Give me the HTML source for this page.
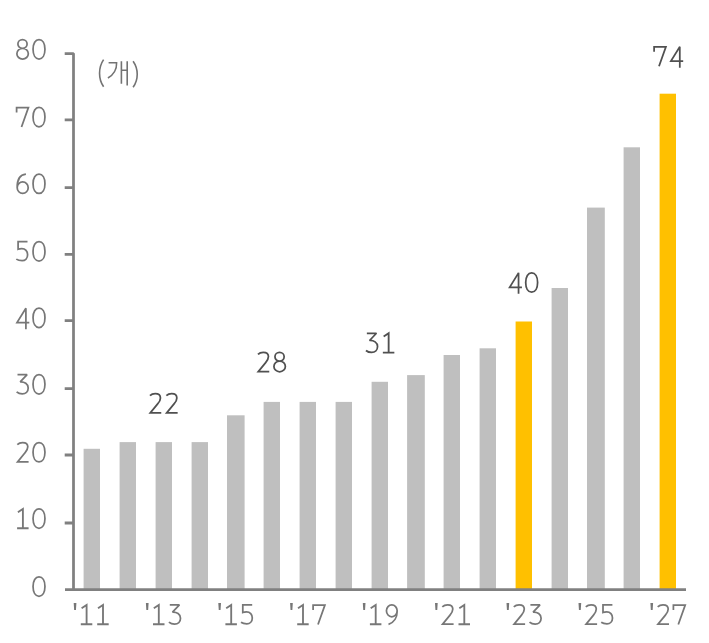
<!DOCTYPE html>
<html><head><meta charset="utf-8"><style>
html,body{margin:0;padding:0;background:#fff;width:709px;height:643px;overflow:hidden}
body{position:relative;font-family:"Liberation Sans",sans-serif}
.tx{position:absolute;font-size:29.3px;line-height:29.3px;white-space:nowrap;color:transparent}
.c{width:80px;text-align:center}
</style></head><body>
<svg width="709" height="643" viewBox="0 0 709 643" style="position:absolute;left:0;top:0"><rect x="83.60" y="448.80" width="16.4" height="141.20" fill="#BFBFBF"/><rect x="119.60" y="442.10" width="16.4" height="147.90" fill="#BFBFBF"/><rect x="155.60" y="442.10" width="16.4" height="147.90" fill="#BFBFBF"/><rect x="191.60" y="442.10" width="16.4" height="147.90" fill="#BFBFBF"/><rect x="227.00" y="415.30" width="17.6" height="174.70" fill="#BFBFBF"/><rect x="263.60" y="401.90" width="16.4" height="188.10" fill="#BFBFBF"/><rect x="299.60" y="401.90" width="16.4" height="188.10" fill="#BFBFBF"/><rect x="335.60" y="401.90" width="16.4" height="188.10" fill="#BFBFBF"/><rect x="371.60" y="381.80" width="16.4" height="208.20" fill="#BFBFBF"/><rect x="407.10" y="375.10" width="17.7" height="214.90" fill="#BFBFBF"/><rect x="443.60" y="355.00" width="16.4" height="235.00" fill="#BFBFBF"/><rect x="479.60" y="348.30" width="16.4" height="241.70" fill="#BFBFBF"/><rect x="515.60" y="321.50" width="16.4" height="268.50" fill="#FFC000"/><rect x="551.60" y="288.00" width="16.4" height="302.00" fill="#BFBFBF"/><rect x="587.00" y="207.60" width="17.8" height="382.40" fill="#BFBFBF"/><rect x="623.60" y="147.30" width="16.4" height="442.70" fill="#BFBFBF"/><rect x="659.60" y="93.70" width="16.4" height="496.30" fill="#FFC000"/><path d="M64.7 119.9H73.5M64.7 187.7H73.5M64.7 254.4H73.5M64.7 320.7H73.5M64.7 388.6H73.5M64.7 455.0H73.5M64.7 523.0H73.5" stroke="#808080" stroke-width="2.8" fill="none"/><path d="M64.7 53.5H73.5V589.5" stroke="#808080" stroke-width="2.75" stroke-linejoin="bevel" fill="none"/><path d="M65 589.6H686" stroke="#808080" stroke-width="2.8" fill="none"/><g><g stroke="#777777" fill="none" stroke-linejoin="miter" stroke-miterlimit="2.5"><path transform="translate(22.60 38.80)" d="M-0.10 0.85C2.44 0.85 4.50 2.80 4.50 5.20C4.50 7.60 2.44 9.55 -0.10 9.55C-2.64 9.55 -4.70 7.60 -4.70 5.20C-4.70 2.80 -2.64 0.85 -0.10 0.85ZM0.00 9.54C3.16 9.54 5.72 11.94 5.72 14.90C5.72 17.86 3.16 20.26 0.00 20.26C-3.16 20.26 -5.72 17.86 -5.72 14.90C-5.72 11.94 -3.16 9.54 0.00 9.54Z" stroke-width="1.75"/><path transform="translate(39.00 38.80)" d="M0.00 0.85C3.57 0.85 5.95 4.73 5.95 10.55C5.95 16.37 3.57 20.25 0.00 20.25C-3.57 20.25 -5.95 16.37 -5.95 10.55C-5.95 4.73 -3.57 0.85 0.00 0.85Z" stroke-width="1.75"/></g><g stroke="#777777" fill="none" stroke-linejoin="miter" stroke-miterlimit="2.5"><path transform="translate(22.60 106.50)" d="M-6.0 6.0V1.0H5.8L-1.1 20.5" stroke-width="1.75"/><path transform="translate(39.00 106.50)" d="M0.00 0.85C3.57 0.85 5.95 4.73 5.95 10.55C5.95 16.37 3.57 20.25 0.00 20.25C-3.57 20.25 -5.95 16.37 -5.95 10.55C-5.95 4.73 -3.57 0.85 0.00 0.85Z" stroke-width="1.75"/></g><g stroke="#777777" fill="none" stroke-linejoin="miter" stroke-miterlimit="2.5"><path transform="translate(22.60 173.20)" d="M3.3 0.9C-0.5 1.2 -5.6 3.5 -5.4 14.5M0.10 8.75C3.14 8.75 5.60 11.32 5.60 14.50C5.60 17.68 3.14 20.25 0.10 20.25C-2.94 20.25 -5.40 17.68 -5.40 14.50C-5.40 11.32 -2.94 8.75 0.10 8.75Z" stroke-width="1.75"/><path transform="translate(39.00 173.20)" d="M0.00 0.85C3.57 0.85 5.95 4.73 5.95 10.55C5.95 16.37 3.57 20.25 0.00 20.25C-3.57 20.25 -5.95 16.37 -5.95 10.55C-5.95 4.73 -3.57 0.85 0.00 0.85Z" stroke-width="1.75"/></g><g stroke="#777777" fill="none" stroke-linejoin="miter" stroke-miterlimit="2.5"><path transform="translate(22.60 240.80)" d="M4.9 0.85H-4.5V8.5C-3.2 8.0 -2 7.9 -0.8 7.9C2.8 7.9 5.0 10.5 5.0 14.0C5.0 17.5 2.6 19.9 -0.5 19.9C-2.8 19.9 -4.9 19.3 -6.3 18.3" stroke-width="1.75"/><path transform="translate(39.00 240.80)" d="M0.00 0.85C3.57 0.85 5.95 4.73 5.95 10.55C5.95 16.37 3.57 20.25 0.00 20.25C-3.57 20.25 -5.95 16.37 -5.95 10.55C-5.95 4.73 -3.57 0.85 0.00 0.85Z" stroke-width="1.75"/></g><g stroke="#777777" fill="none" stroke-linejoin="miter" stroke-miterlimit="2.5"><path transform="translate(22.60 307.30)" d="M3.3 21.9V0.9L-5.6 15.3H6.7" stroke-width="1.75"/><path transform="translate(39.00 307.30)" d="M0.00 0.85C3.57 0.85 5.95 4.73 5.95 10.55C5.95 16.37 3.57 20.25 0.00 20.25C-3.57 20.25 -5.95 16.37 -5.95 10.55C-5.95 4.73 -3.57 0.85 0.00 0.85Z" stroke-width="1.75"/></g><g stroke="#777777" fill="none" stroke-linejoin="miter" stroke-miterlimit="2.5"><path transform="translate(22.60 373.80)" d="M-5.1 0.86H4.5L-2.4 8.1C1.8 7.9 5.6 10 5.6 14.2C5.6 18 3 20.1 -0.3 20.1C-2.5 20.1 -4.6 19.3 -6.0 18.1" stroke-width="1.75"/><path transform="translate(39.00 373.80)" d="M0.00 0.85C3.57 0.85 5.95 4.73 5.95 10.55C5.95 16.37 3.57 20.25 0.00 20.25C-3.57 20.25 -5.95 16.37 -5.95 10.55C-5.95 4.73 -3.57 0.85 0.00 0.85Z" stroke-width="1.75"/></g><g stroke="#777777" fill="none" stroke-linejoin="miter" stroke-miterlimit="2.5"><path transform="translate(22.60 441.70)" d="M-5.3 2.9C-3.8 1.4 -1.9 0.85 0 0.85C3.2 0.85 5.2 2.6 5.2 5.1C5.2 7.3 4.0 9.3 2.4 11.1L-5.0 20.2H6.0" stroke-width="1.75"/><path transform="translate(39.00 441.70)" d="M0.00 0.85C3.57 0.85 5.95 4.73 5.95 10.55C5.95 16.37 3.57 20.25 0.00 20.25C-3.57 20.25 -5.95 16.37 -5.95 10.55C-5.95 4.73 -3.57 0.85 0.00 0.85Z" stroke-width="1.75"/></g><g stroke="#777777" fill="none" stroke-linejoin="miter" stroke-miterlimit="2.5"><path transform="translate(22.60 508.00)" d="M-4.7 4.2L0.3 0.9V20.2M-5.5 20.2H6.0" stroke-width="1.85"/><path transform="translate(39.00 508.00)" d="M0.00 0.85C3.57 0.85 5.95 4.73 5.95 10.55C5.95 16.37 3.57 20.25 0.00 20.25C-3.57 20.25 -5.95 16.37 -5.95 10.55C-5.95 4.73 -3.57 0.85 0.00 0.85Z" stroke-width="1.75"/></g><g stroke="#777777" fill="none" stroke-linejoin="miter" stroke-miterlimit="2.5"><path transform="translate(39.00 576.00)" d="M0.00 0.85C3.57 0.85 5.95 4.73 5.95 10.55C5.95 16.37 3.57 20.25 0.00 20.25C-3.57 20.25 -5.95 16.37 -5.95 10.55C-5.95 4.73 -3.57 0.85 0.00 0.85Z" stroke-width="1.75"/></g><g stroke="#777777" fill="none" stroke-linejoin="miter" stroke-miterlimit="2.5"><path transform="translate(86.30 604.00)" d="M-4.7 4.2L0.3 0.9V20.2M-5.5 20.2H6.0" stroke-width="1.85"/><path transform="translate(102.70 604.00)" d="M-4.7 4.2L0.3 0.9V20.2M-5.5 20.2H6.0" stroke-width="1.85"/></g><g stroke="#777777" fill="none" stroke-linejoin="miter" stroke-miterlimit="2.5"><path transform="translate(158.50 604.00)" d="M-4.7 4.2L0.3 0.9V20.2M-5.5 20.2H6.0" stroke-width="1.85"/><path transform="translate(174.90 604.00)" d="M-5.1 0.86H4.5L-2.4 8.1C1.8 7.9 5.6 10 5.6 14.2C5.6 18 3 20.1 -0.3 20.1C-2.5 20.1 -4.6 19.3 -6.0 18.1" stroke-width="1.75"/></g><g stroke="#777777" fill="none" stroke-linejoin="miter" stroke-miterlimit="2.5"><path transform="translate(230.90 604.00)" d="M-4.7 4.2L0.3 0.9V20.2M-5.5 20.2H6.0" stroke-width="1.85"/><path transform="translate(247.30 604.00)" d="M4.9 0.85H-4.5V8.5C-3.2 8.0 -2 7.9 -0.8 7.9C2.8 7.9 5.0 10.5 5.0 14.0C5.0 17.5 2.6 19.9 -0.5 19.9C-2.8 19.9 -4.9 19.3 -6.3 18.3" stroke-width="1.75"/></g><g stroke="#777777" fill="none" stroke-linejoin="miter" stroke-miterlimit="2.5"><path transform="translate(302.70 604.00)" d="M-4.7 4.2L0.3 0.9V20.2M-5.5 20.2H6.0" stroke-width="1.85"/><path transform="translate(319.10 604.00)" d="M-6.0 6.0V1.0H5.8L-1.1 20.5" stroke-width="1.75"/></g><g stroke="#777777" fill="none" stroke-linejoin="miter" stroke-miterlimit="2.5"><path transform="translate(375.40 604.00)" d="M-4.7 4.2L0.3 0.9V20.2M-5.5 20.2H6.0" stroke-width="1.85"/><path transform="translate(391.80 604.00)" d="M0.00 0.83C2.96 0.83 5.36 3.50 5.36 6.80C5.36 10.10 2.96 12.77 0.00 12.77C-2.96 12.77 -5.36 10.10 -5.36 6.80C-5.36 3.50 -2.96 0.83 0.00 0.83ZM5.36 7.5C5.36 13 2.5 18.5 -3.3 20.3" stroke-width="1.75"/></g><g stroke="#777777" fill="none" stroke-linejoin="miter" stroke-miterlimit="2.5"><path transform="translate(447.60 604.00)" d="M-5.3 2.9C-3.8 1.4 -1.9 0.85 0 0.85C3.2 0.85 5.2 2.6 5.2 5.1C5.2 7.3 4.0 9.3 2.4 11.1L-5.0 20.2H6.0" stroke-width="1.75"/><path transform="translate(464.00 604.00)" d="M-4.7 4.2L0.3 0.9V20.2M-5.5 20.2H6.0" stroke-width="1.85"/></g><g stroke="#777777" fill="none" stroke-linejoin="miter" stroke-miterlimit="2.5"><path transform="translate(519.10 604.00)" d="M-5.3 2.9C-3.8 1.4 -1.9 0.85 0 0.85C3.2 0.85 5.2 2.6 5.2 5.1C5.2 7.3 4.0 9.3 2.4 11.1L-5.0 20.2H6.0" stroke-width="1.75"/><path transform="translate(535.50 604.00)" d="M-5.1 0.86H4.5L-2.4 8.1C1.8 7.9 5.6 10 5.6 14.2C5.6 18 3 20.1 -0.3 20.1C-2.5 20.1 -4.6 19.3 -6.0 18.1" stroke-width="1.75"/></g><g stroke="#777777" fill="none" stroke-linejoin="miter" stroke-miterlimit="2.5"><path transform="translate(591.10 604.00)" d="M-5.3 2.9C-3.8 1.4 -1.9 0.85 0 0.85C3.2 0.85 5.2 2.6 5.2 5.1C5.2 7.3 4.0 9.3 2.4 11.1L-5.0 20.2H6.0" stroke-width="1.75"/><path transform="translate(607.50 604.00)" d="M4.9 0.85H-4.5V8.5C-3.2 8.0 -2 7.9 -0.8 7.9C2.8 7.9 5.0 10.5 5.0 14.0C5.0 17.5 2.6 19.9 -0.5 19.9C-2.8 19.9 -4.9 19.3 -6.3 18.3" stroke-width="1.75"/></g><g stroke="#777777" fill="none" stroke-linejoin="miter" stroke-miterlimit="2.5"><path transform="translate(663.00 604.00)" d="M-5.3 2.9C-3.8 1.4 -1.9 0.85 0 0.85C3.2 0.85 5.2 2.6 5.2 5.1C5.2 7.3 4.0 9.3 2.4 11.1L-5.0 20.2H6.0" stroke-width="1.75"/><path transform="translate(679.40 604.00)" d="M-6.0 6.0V1.0H5.8L-1.1 20.5" stroke-width="1.75"/></g><path d="M73.70 602.9h2.7l-0.45 7.1h-1.8zM145.90 602.9h2.7l-0.45 7.1h-1.8zM218.30 602.9h2.7l-0.45 7.1h-1.8zM290.10 602.9h2.7l-0.45 7.1h-1.8zM362.80 602.9h2.7l-0.45 7.1h-1.8zM435.00 602.9h2.7l-0.45 7.1h-1.8zM506.50 602.9h2.7l-0.45 7.1h-1.8zM578.50 602.9h2.7l-0.45 7.1h-1.8zM650.40 602.9h2.7l-0.45 7.1h-1.8z" fill="#777777"/><g stroke="#505050" fill="none" stroke-linejoin="miter" stroke-miterlimit="2.5"><path transform="translate(155.25 392.80)" d="M-5.3 2.9C-3.8 1.4 -1.9 0.85 0 0.85C3.2 0.85 5.2 2.6 5.2 5.1C5.2 7.3 4.0 9.3 2.4 11.1L-5.0 20.2H6.0" stroke-width="1.75"/><path transform="translate(171.65 392.80)" d="M-5.3 2.9C-3.8 1.4 -1.9 0.85 0 0.85C3.2 0.85 5.2 2.6 5.2 5.1C5.2 7.3 4.0 9.3 2.4 11.1L-5.0 20.2H6.0" stroke-width="1.75"/></g><g stroke="#505050" fill="none" stroke-linejoin="miter" stroke-miterlimit="2.5"><path transform="translate(263.25 351.50)" d="M-5.3 2.9C-3.8 1.4 -1.9 0.85 0 0.85C3.2 0.85 5.2 2.6 5.2 5.1C5.2 7.3 4.0 9.3 2.4 11.1L-5.0 20.2H6.0" stroke-width="1.75"/><path transform="translate(279.65 351.50)" d="M-0.10 0.85C2.44 0.85 4.50 2.80 4.50 5.20C4.50 7.60 2.44 9.55 -0.10 9.55C-2.64 9.55 -4.70 7.60 -4.70 5.20C-4.70 2.80 -2.64 0.85 -0.10 0.85ZM0.00 9.54C3.16 9.54 5.72 11.94 5.72 14.90C5.72 17.86 3.16 20.26 0.00 20.26C-3.16 20.26 -5.72 17.86 -5.72 14.90C-5.72 11.94 -3.16 9.54 0.00 9.54Z" stroke-width="1.75"/></g><g stroke="#505050" fill="none" stroke-linejoin="miter" stroke-miterlimit="2.5"><path transform="translate(371.95 332.40)" d="M-5.1 0.86H4.5L-2.4 8.1C1.8 7.9 5.6 10 5.6 14.2C5.6 18 3 20.1 -0.3 20.1C-2.5 20.1 -4.6 19.3 -6.0 18.1" stroke-width="1.75"/><path transform="translate(388.35 332.40)" d="M-4.7 4.2L0.3 0.9V20.2M-5.5 20.2H6.0" stroke-width="1.85"/></g><g stroke="#505050" fill="none" stroke-linejoin="miter" stroke-miterlimit="2.5"><path transform="translate(515.25 271.95)" d="M3.3 21.9V0.9L-5.6 15.3H6.7" stroke-width="1.75"/><path transform="translate(531.65 271.95)" d="M0.00 0.85C3.57 0.85 5.95 4.73 5.95 10.55C5.95 16.37 3.57 20.25 0.00 20.25C-3.57 20.25 -5.95 16.37 -5.95 10.55C-5.95 4.73 -3.57 0.85 0.00 0.85Z" stroke-width="1.75"/></g><g stroke="#505050" fill="none" stroke-linejoin="miter" stroke-miterlimit="2.5"><path transform="translate(660.10 45.80)" d="M-6.0 6.0V1.0H5.8L-1.1 20.5" stroke-width="1.75"/><path transform="translate(676.50 45.80)" d="M3.3 21.9V0.9L-5.6 15.3H6.7" stroke-width="1.75"/></g><g fill="none" stroke="#737373" stroke-width="1.6"><path d="M103.6 59.6C98.2 67.5 98.2 79 103.6 86.8"/><path d="M133.1 61.2C138.6 69 138.6 79.5 133.1 87.3"/><path d="M108.6 62.8H116.6C116.9 69 113.5 75 107.9 78"/><path d="M121.4 61.3V83.8M127.2 61.3V85.5M121.4 70.3H127.2"/></g></g></svg>
<div class="tx" style="right:661.8px;top:34.55px">80</div><div class="tx" style="right:661.8px;top:102.25px">70</div><div class="tx" style="right:661.8px;top:168.95px">60</div><div class="tx" style="right:661.8px;top:236.55px">50</div><div class="tx" style="right:661.8px;top:303.05px">40</div><div class="tx" style="right:661.8px;top:369.55px">30</div><div class="tx" style="right:661.8px;top:437.45px">20</div><div class="tx" style="right:661.8px;top:503.75px">10</div><div class="tx" style="right:661.8px;top:571.75px">0</div><div class="tx c" style="left:54.50px;top:599.75px">&#39;11</div><div class="tx c" style="left:126.70px;top:599.75px">&#39;13</div><div class="tx c" style="left:199.10px;top:599.75px">&#39;15</div><div class="tx c" style="left:270.90px;top:599.75px">&#39;17</div><div class="tx c" style="left:343.60px;top:599.75px">&#39;19</div><div class="tx c" style="left:415.80px;top:599.75px">&#39;21</div><div class="tx c" style="left:487.30px;top:599.75px">&#39;23</div><div class="tx c" style="left:559.30px;top:599.75px">&#39;25</div><div class="tx c" style="left:631.20px;top:599.75px">&#39;27</div><div class="tx c" style="left:123.45px;top:388.55px">22</div><div class="tx c" style="left:231.45px;top:347.25px">28</div><div class="tx c" style="left:340.15px;top:328.15px">31</div><div class="tx c" style="left:483.45px;top:267.70px">40</div><div class="tx c" style="left:628.30px;top:41.55px">74</div><div class="tx" style="left:97px;top:58px;font-size:26px;line-height:30px">(&#xAC1C;)</div>
</body></html>
